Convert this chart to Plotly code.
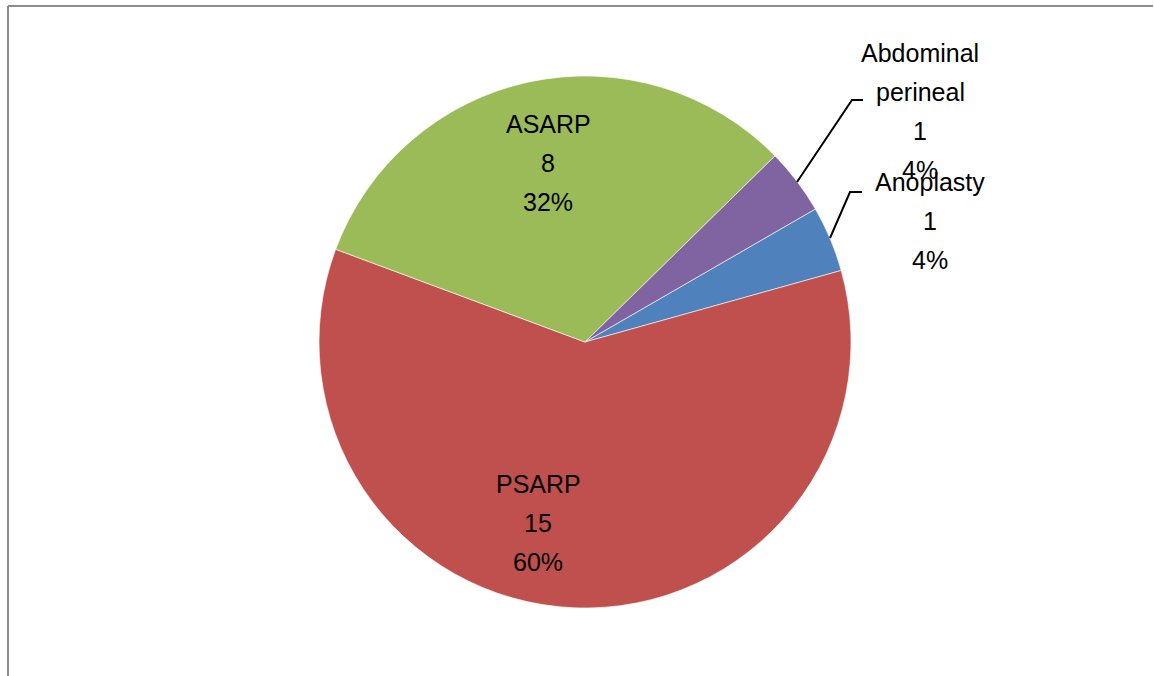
import plotly.graph_objects as go

labels = ["Anoplasty", "PSARP", "ASARP", "Abdominal perineal"]
values = [1, 15, 8, 1]
colors = ["#4F81BD", "#C0504D", "#9BBB59", "#8064A2"]

W, H = 1154, 676
total = sum(values)
pct = [f"{round(v * 100 / total)}%" for v in values]

fig = go.Figure(go.Pie(
    labels=labels, values=values, sort=False, direction="clockwise",
    rotation=60, marker=dict(colors=colors, line=dict(color="white", width=0.6)),
    textinfo="none", hoverinfo="label+value+percent", showlegend=False,
    domain=dict(x=[319 / W, 851 / W], y=[(H - 608) / H, (H - 76) / H]),
))

def px(x):
    return x / W

def py(y):
    return 1 - y / H

# label blocks: (lines, center x, first-line baseline y in px)
blocks = [
    (["Anoplasty", str(values[0]), pct[0]], 930, 190),
    (["PSARP", str(values[1]), pct[1]], 538, 492),
    (["ASARP", str(values[2]), pct[2]], 548, 132),
    (["Abdominal", "perineal", str(values[3]), pct[3]], 920, 61),
]
annotations = []
spacing = 39
for lines, cx, base in blocks:
    for i, t in enumerate(lines):
        b = base + i * spacing
        annotations.append(dict(
            x=px(cx), y=py(b - 8), xref="paper", yref="paper", text=t,
            showarrow=False, xanchor="center", yanchor="middle",
            font=dict(family="Liberation Sans, Arial", size=25, color="black"),
        ))

shapes = [
    # chart frame (top and left visible)
    dict(type="line", xref="paper", yref="paper", x0=px(8), y0=py(6), x1=px(1153), y1=py(6),
         line=dict(color="#8C8C8C", width=2)),
    dict(type="line", xref="paper", yref="paper", x0=px(8), y0=py(6), x1=px(8), y1=py(676),
         line=dict(color="#8C8C8C", width=2)),
    # leader lines
    dict(type="path", xref="paper", yref="paper",
         path=f"M {px(797)} {py(182)} L {px(852)} {py(100)} L {px(863)} {py(100)}",
         line=dict(color="black", width=2)),
    dict(type="path", xref="paper", yref="paper",
         path=f"M {px(830)} {py(238)} L {px(850)} {py(192)} L {px(862)} {py(192)}",
         line=dict(color="black", width=2)),
]

fig.update_layout(
    width=W, height=H, margin=dict(l=0, r=0, t=0, b=0),
    paper_bgcolor="white", plot_bgcolor="white",
    annotations=annotations, shapes=shapes,
)
fig.write_html("out.html", config={"displayModeBar": False},
               post_script="document.body.style.margin='0';")
